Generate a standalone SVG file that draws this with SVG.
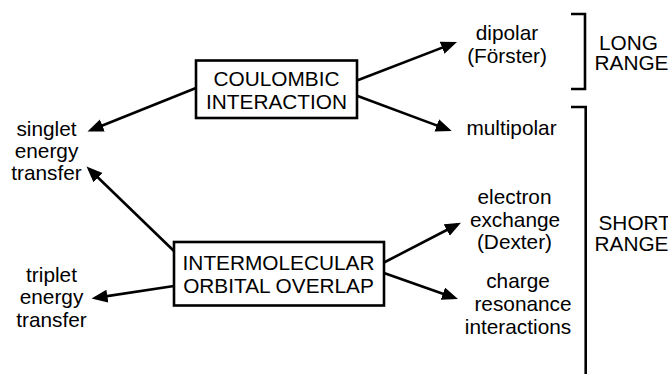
<svg xmlns="http://www.w3.org/2000/svg" width="668" height="374" viewBox="0 0 668 374">
<style>
text{font-family:"Liberation Sans",Arial,sans-serif;font-size:20.8px;fill:#000}
.c{text-anchor:middle}
.box{fill:#fff;stroke:#000;stroke-width:2.6}
.ln{stroke:#000;stroke-width:2.6;fill:none}
.br{stroke:#000;stroke-width:2.6;fill:none}
</style>
<defs>
<marker id="ah" markerUnits="userSpaceOnUse" markerWidth="18" markerHeight="14" refX="12" refY="6.5" orient="auto" viewBox="0 0 18 14">
<path d="M0,0 L16,6.5 L0,13 z" fill="#000"/>
</marker>
</defs>
<rect width="668" height="374" fill="#fff"/>
<g id="connectors">
<line class="ln" x1="196" y1="88" x2="91.2" y2="130" marker-end="url(#ah)"/>
<line class="ln" x1="175" y1="252" x2="89.4" y2="169.3" marker-end="url(#ah)"/>
<line class="ln" x1="174" y1="286" x2="95.5" y2="297.9" marker-end="url(#ah)"/>
<line class="ln" x1="357" y1="80.5" x2="453.3" y2="43.4" marker-end="url(#ah)"/>
<line class="ln" x1="357" y1="95.7" x2="448" y2="129.6" marker-end="url(#ah)"/>
<line class="ln" x1="384" y1="262.5" x2="457.4" y2="224.5" marker-end="url(#ah)"/>
<line class="ln" x1="384" y1="273" x2="454.2" y2="297.7" marker-end="url(#ah)"/>
</g>
<g id="coulombic">
<rect class="box" x="196" y="60.5" width="161" height="57.5"/>
<text class="c" x="276.5" y="86">COULOMBIC</text>
<text class="c" x="276.5" y="108.5">INTERACTION</text>
</g>
<g id="intermolecular">
<rect class="box" x="174" y="242" width="210" height="63.5"/>
<text class="c" x="278.5" y="270">INTERMOLECULAR</text>
<text class="c" x="278.5" y="292.5">ORBITAL OVERLAP</text>
</g>
<g id="singlet">
<text class="c" x="46.5" y="135.5">singlet</text>
<text class="c" x="46.5" y="157.5">energy</text>
<text class="c" x="46.5" y="180">transfer</text>
</g>
<g id="triplet">
<text class="c" x="51.5" y="281.5">triplet</text>
<text class="c" x="51.5" y="304">energy</text>
<text class="c" x="51.5" y="326.5">transfer</text>
</g>
<g id="dipolar">
<text class="c" x="507" y="40">dipolar</text>
<text class="c" x="507" y="63">(Förster)</text>
</g>
<g id="multipolar">
<text class="c" x="511.5" y="135">multipolar</text>
</g>
<g id="electron">
<text class="c" x="514.5" y="203.5">electron</text>
<text class="c" x="515" y="226.5">exchange</text>
<text class="c" x="514.5" y="249">(Dexter)</text>
</g>
<g id="charge">
<text class="c" x="518" y="288">charge</text>
<text class="c" x="523" y="311">resonance</text>
<text class="c" x="518" y="333.5">interactions</text>
</g>
<g id="long-range">
<path class="br" d="M571,14 H585 V89 H571"/>
<text x="599" y="49.5">LONG</text>
<text x="594.5" y="70">RANGE</text>
</g>
<g id="short-range">
<path class="br" d="M571,107 H585.7 V374"/>
<text x="598.5" y="230">SHORT</text>
<text x="594.5" y="250.5">RANGE</text>
</g>
</svg>
